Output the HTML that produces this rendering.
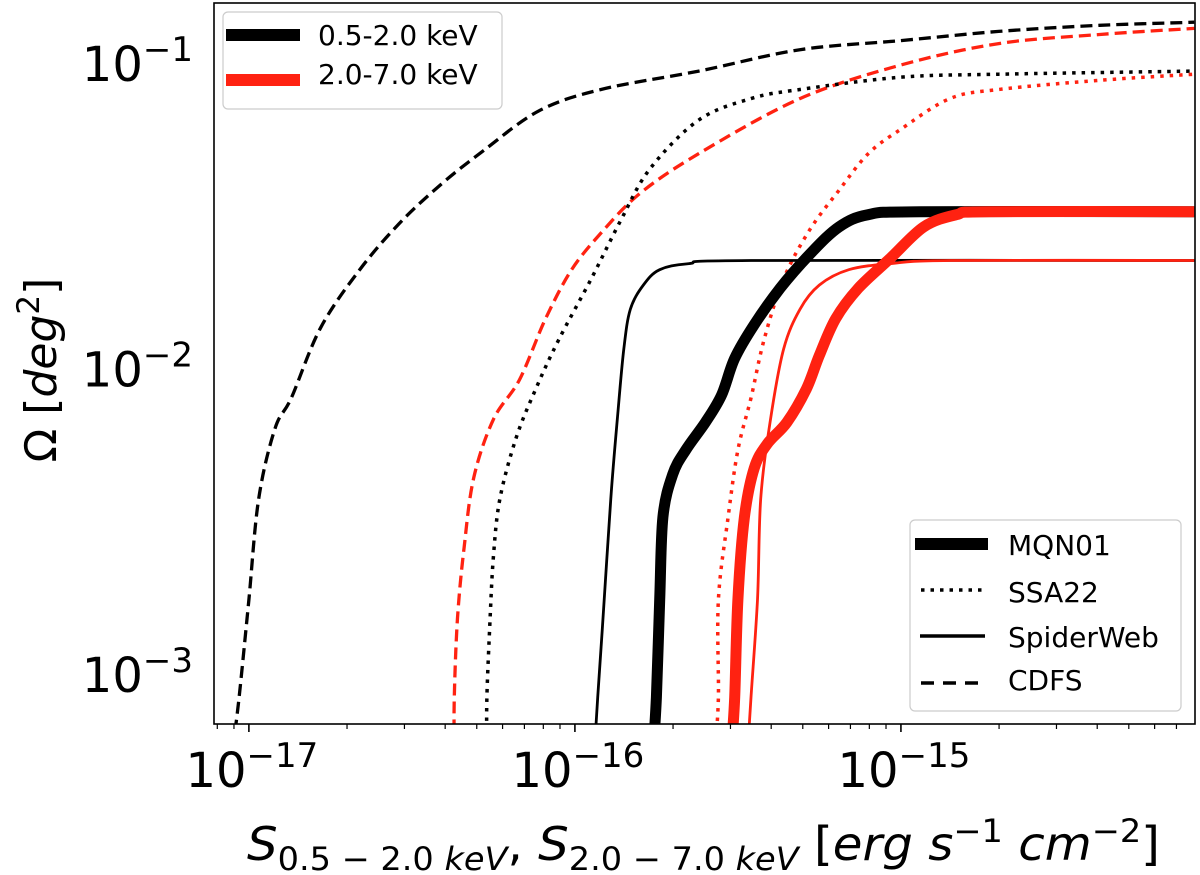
<!DOCTYPE html>
<html><head><meta charset="utf-8"><style>
html,body{margin:0;padding:0;background:#fff;}
svg{display:block;font-family:"DejaVu Sans","Liberation Sans",sans-serif;}
</style></head><body>
<svg id="chart" width="1200" height="875" viewBox="0 0 1200 875" xmlns="http://www.w3.org/2000/svg">
<defs><clipPath id="plotclip"><rect x="214" y="3" width="981" height="721"/></clipPath></defs>
<g id="curves" clip-path="url(#plotclip)"></g>
<g id="axes"></g>
<rect x="214" y="3" width="981" height="721" fill="none" stroke="#000" stroke-width="1.6"/>

<g>
<rect x="223" y="12" width="279" height="97" rx="5" fill="#fff" fill-opacity="0.85" stroke="#ccc" stroke-width="1.2"/>
<line x1="226" y1="35" x2="300" y2="35" stroke="#000" stroke-width="12"/>
<text x="318" y="45" font-size="28">0.5-2.0 keV</text>
<line x1="226" y1="80" x2="300" y2="80" stroke="#ff2211" stroke-width="12"/>
<text x="318" y="84" font-size="28" dy="0">2.0-7.0 keV</text>
</g>
<g>
<rect x="910" y="520" width="271" height="191" rx="5" fill="#fff" fill-opacity="0.85" stroke="#ccc" stroke-width="1.2"/>
<line x1="915" y1="544" x2="988" y2="544" stroke="#000" stroke-width="12"/>
<text x="1008" y="555" font-size="28">MQN01</text>
<line x1="921" y1="590" x2="982" y2="590" stroke="#000" stroke-width="3.5" stroke-dasharray="3.5,6"/>
<text x="1008" y="602" font-size="28">SSA22</text>
<line x1="920" y1="636" x2="985" y2="636" stroke="#000" stroke-width="3.5"/>
<text x="1008" y="647" font-size="28">SpiderWeb</text>
<line x1="921" y1="683" x2="982" y2="683" stroke="#000" stroke-width="3.5" stroke-dasharray="13,9"/>
<text x="1008" y="690" font-size="28">CDFS</text>
</g>

<text x="247" y="860" font-size="46" textLength="913" lengthAdjust="spacingAndGlyphs"><tspan font-style="italic">S</tspan><tspan font-size="32" dy="10">0.5 − 2.0 <tspan font-style="italic">keV</tspan></tspan><tspan dy="-10">,  </tspan><tspan font-style="italic">S</tspan><tspan font-size="32" dy="10">2.0 − 7.0 <tspan font-style="italic">keV</tspan></tspan><tspan dy="-10"> [</tspan><tspan font-style="italic">erg s</tspan><tspan font-size="32" dy="-18">−1</tspan><tspan dy="18" font-style="italic"> cm</tspan><tspan font-size="32" dy="-18">−2</tspan><tspan dy="18">]</tspan></text>
<text transform="translate(56,370) rotate(-90)" font-size="44" text-anchor="middle">Ω [<tspan font-style="italic">deg</tspan><tspan font-size="31" dy="-17">2</tspan><tspan dy="17">]</tspan></text>
</svg>
<script>
// axis calibration (log10 units)
const xDomain = [-17.107, -14.098];
const yDomain = [-3.167, -0.807];
const xTickExps = [-17, -16, -15];
const yTickExps = [-3, -2, -1];
const xTickLabels = ["−17", "−16", "−15"];
const yTickLabels = ["−3", "−2", "−1"];

// series: log10 flux (erg/s/cm^2) and log10 area (deg^2)
const cdfsSoftS = [-17.05,-17.03,-17.00,-16.97,-16.92,-16.87,-16.78,-16.66,-16.54,-16.41,-16.28,-16.11,-15.92,-15.62,-15.31,-15.00,-14.70,-14.39,-14.10];
const cdfsSoftA = [-3.25,-3.08,-2.76,-2.43,-2.20,-2.10,-1.87,-1.68,-1.53,-1.40,-1.29,-1.16,-1.09,-1.03,-0.96,-0.93,-0.90,-0.88,-0.87];
const cdfsHardS = [-16.37,-16.37,-16.36,-16.34,-16.31,-16.25,-16.17,-16.09,-16.01,-15.92,-15.80,-15.62,-15.31,-15.00,-14.70,-14.39,-14.10];
const cdfsHardA = [-3.25,-3.08,-2.82,-2.59,-2.36,-2.17,-2.04,-1.84,-1.68,-1.56,-1.43,-1.30,-1.12,-1.01,-0.94,-0.91,-0.89];
const ssaSoftS = [-16.27,-16.27,-16.26,-16.25,-16.23,-16.18,-16.12,-16.05,-15.95,-15.86,-15.77,-15.62,-15.46,-15.31,-15.00,-14.70,-14.10];
const ssaSoftA = [-3.25,-3.08,-2.82,-2.62,-2.43,-2.23,-2.07,-1.91,-1.71,-1.52,-1.35,-1.19,-1.12,-1.09,-1.05,-1.04,-1.03];
const ssaHardS = [-15.57,-15.56,-15.56,-15.53,-15.50,-15.46,-15.42,-15.36,-15.28,-15.19,-15.10,-15.00,-14.85,-14.70,-14.39,-14.10];
const ssaHardA = [-3.25,-3.08,-2.76,-2.49,-2.27,-2.10,-1.91,-1.71,-1.55,-1.42,-1.30,-1.22,-1.12,-1.09,-1.06,-1.04];
const spiderSoftS = [-15.94,-15.93,-15.91,-15.89,-15.87,-15.85,-15.83,-15.79,-15.74,-15.65,-15.46,-14.10];
const spiderSoftA = [-3.25,-3.08,-2.76,-2.43,-2.17,-1.94,-1.81,-1.73,-1.68,-1.66,-1.65,-1.65];
const spiderHardS = [-15.47,-15.46,-15.44,-15.43,-15.40,-15.36,-15.31,-15.25,-15.16,-15.03,-14.85,-14.10];
const spiderHardA = [-3.25,-3.08,-2.76,-2.43,-2.17,-1.94,-1.81,-1.73,-1.68,-1.66,-1.65,-1.65];
const mqnSoftS = [-15.76,-15.75,-15.74,-15.73,-15.70,-15.66,-15.60,-15.55,-15.51,-15.45,-15.37,-15.28,-15.19,-15.10,-14.94,-14.10];
const mqnSoftA = [-3.25,-3.08,-2.76,-2.49,-2.35,-2.27,-2.18,-2.09,-1.97,-1.86,-1.74,-1.63,-1.54,-1.50,-1.49,-1.49];
const mqnHardS = [-15.52,-15.51,-15.50,-15.48,-15.45,-15.41,-15.35,-15.29,-15.25,-15.20,-15.13,-15.03,-14.93,-14.83,-14.73,-14.10];
const mqnHardA = [-3.25,-3.08,-2.76,-2.49,-2.33,-2.25,-2.18,-2.07,-1.96,-1.84,-1.74,-1.64,-1.54,-1.50,-1.49,-1.49];

const PX = {l:214, r:1195, t:3, b:724};
function xScale(v){ return PX.l + (v - xDomain[0])/(xDomain[1]-xDomain[0])*(PX.r-PX.l); }
function yScale(v){ return PX.b - (v - yDomain[0])/(yDomain[1]-yDomain[0])*(PX.b-PX.t); }
const NS = "http://www.w3.org/2000/svg";

function smoothPath(xs, ys){
  const p = xs.map((v,i)=>[xScale(v), yScale(ys[i])]);
  let d = "M" + p[0][0].toFixed(1) + "," + p[0][1].toFixed(1);
  for(let i=0;i<p.length-1;i++){
    const p0=p[Math.max(i-1,0)], p1=p[i], p2=p[i+1], p3=p[Math.min(i+2,p.length-1)];
    const c1=[p1[0]+(p2[0]-p0[0])/6, p1[1]+(p2[1]-p0[1])/6];
    const c2=[p2[0]-(p3[0]-p1[0])/6, p2[1]-(p3[1]-p1[1])/6];
    d += " C"+c1[0].toFixed(1)+","+c1[1].toFixed(1)+" "+c2[0].toFixed(1)+","+c2[1].toFixed(1)+" "+p2[0].toFixed(1)+","+p2[1].toFixed(1);
  }
  return d;
}
const curvesG = document.getElementById("curves");
function addCurve(name, xs, ys, color, width, dash){
  const el = document.createElementNS(NS,"path");
  el.setAttribute("d", smoothPath(xs, ys));
  el.setAttribute("fill","none");
  el.setAttribute("stroke", color);
  el.setAttribute("stroke-width", width);
  if(dash) el.setAttribute("stroke-dasharray", dash);
  
  
  curvesG.appendChild(el);
}
const RED = "#ff2211";
addCurve("cdfs-soft-curve", cdfsSoftS, cdfsSoftA, "#000", 3.3, "12,6");
addCurve("cdfs-hard-curve", cdfsHardS, cdfsHardA, RED, 3.3, "12,6");
addCurve("ssa22-soft-curve", ssaSoftS, ssaSoftA, "#000", 3.5, "3.5,6");
addCurve("ssa22-hard-curve", ssaHardS, ssaHardA, RED, 3.5, "3.5,6");
addCurve("spiderweb-soft-curve", spiderSoftS, spiderSoftA, "#000", 2.8, null);
addCurve("spiderweb-hard-curve", spiderHardS, spiderHardA, RED, 2.8, null);
addCurve("mqn01-soft-curve", mqnSoftS, mqnSoftA, "#000", 11, null);
addCurve("mqn01-hard-curve", mqnHardS, mqnHardA, RED, 11, null);

const axesG = document.getElementById("axes");
function tick(x1,y1,x2,y2,w){
  const l=document.createElementNS(NS,"line");
  l.setAttribute("x1",x1);l.setAttribute("y1",y1);l.setAttribute("x2",x2);l.setAttribute("y2",y2);
  l.setAttribute("stroke","#000");l.setAttribute("stroke-width",w);
  
  
  axesG.appendChild(l);
}
for(let e=-18;e<=-14;e++){
  for(let m=1;m<10;m++){
    const v=e+Math.log10(m);
    if(v>=xDomain[0] && v<=xDomain[1]){
      const x=xScale(v); tick(x,PX.b,x,PX.b+(m===1?8:5),m===1?1.6:1.2);
    }
    if(v>=yDomain[0] && v<=yDomain[1]){
      const y=yScale(v); tick(PX.l,y,PX.l-(m===1?8:5),y,m===1?1.6:1.2);
    }
  }
}
xTickExps.forEach((e,i)=>{
  const t=document.createElementNS(NS,"text");
  t.setAttribute("x", xScale(e)+3); t.setAttribute("y", 787);
  t.setAttribute("text-anchor","middle"); t.setAttribute("font-size","48");
  t.innerHTML = '10<tspan font-size="34" dy="-20">'+xTickLabels[i]+'</tspan>';
  
  
  axesG.appendChild(t);
});
yTickExps.forEach((e,i)=>{
  const t=document.createElementNS(NS,"text");
  t.setAttribute("x", 193); t.setAttribute("y", yScale(e)+19);
  t.setAttribute("text-anchor","end"); t.setAttribute("font-size","48");
  t.innerHTML = '10<tspan font-size="34" dy="-20">'+yTickLabels[i]+'</tspan>';
  
  
  axesG.appendChild(t);
});
</script>
</body></html>
